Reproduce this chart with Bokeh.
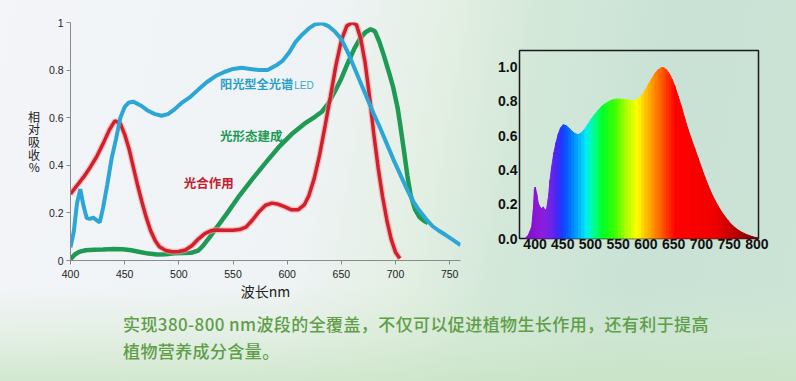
import numpy as np
from bokeh.plotting import figure
from bokeh.models import Range1d, FixedTicker, Label, Div
from bokeh.layouts import row, column
from bokeh.embed import file_html
from bokeh.resources import INLINE
from bokeh.core.properties import value

# ---------------- data: left chart ----------------
LED_NM = [400, 403, 406, 409, 412, 415, 418, 421, 424, 427, 430, 434, 438, 442, 446, 450,
          454, 458, 462, 466, 472, 478, 484, 490, 496, 502, 510, 518, 526, 534, 542, 550,
          558, 566, 574, 582, 590, 596, 602, 608, 614, 620, 626, 632, 638, 644, 650, 656,
          662, 668, 674, 680, 686, 692, 698, 704, 710, 716, 722, 728, 734, 740, 746, 752, 760]
LED_VAL = [0.055, 0.12, 0.24, 0.30, 0.23, 0.178, 0.175, 0.18, 0.17, 0.16, 0.22, 0.32, 0.43,
           0.51, 0.60, 0.645, 0.664, 0.667, 0.658, 0.648, 0.628, 0.615, 0.608, 0.615, 0.635,
           0.66, 0.685, 0.718, 0.75, 0.775, 0.792, 0.805, 0.81, 0.805, 0.80, 0.80, 0.82, 0.84,
           0.875, 0.92, 0.95, 0.975, 0.993, 0.997, 0.985, 0.962, 0.93, 0.875, 0.81, 0.745,
           0.68, 0.615, 0.555, 0.49, 0.425, 0.365, 0.305, 0.25, 0.21, 0.175, 0.145, 0.125,
           0.108, 0.09, 0.065]

PHOTO_NM = [400, 406, 412, 418, 424, 430, 436, 441, 446, 450, 454, 458, 462, 466, 470, 474,
            478, 482, 488, 494, 500, 506, 512, 518, 524, 530, 536, 542, 550, 556, 562, 568,
            574, 580, 586, 592, 598, 604, 610, 616, 620, 625, 630, 635, 640, 645, 650, 655,
            660, 664, 668, 672, 676, 680, 684, 688, 692, 696, 700, 704]
PHOTO_VAL = [0.28, 0.315, 0.35, 0.39, 0.435, 0.49, 0.55, 0.587, 0.575, 0.53, 0.47, 0.392,
             0.315, 0.245, 0.18, 0.125, 0.085, 0.058, 0.042, 0.037, 0.038, 0.044, 0.062,
             0.09, 0.113, 0.126, 0.128, 0.127, 0.127, 0.13, 0.14, 0.17, 0.205, 0.232, 0.241,
             0.236, 0.225, 0.213, 0.213, 0.235, 0.272, 0.345, 0.445, 0.565, 0.69, 0.82, 0.925,
             0.985, 1.0, 0.99, 0.93, 0.83, 0.69, 0.53, 0.39, 0.27, 0.17, 0.09, 0.035, 0.008]

MORPH_NM = [400, 404, 408, 414, 422, 430, 440, 448, 456, 464, 472, 480, 488, 496, 504, 512,
            518, 522, 528, 535, 544, 556, 568, 580, 592, 604, 616, 626, 632, 638, 644, 650,
            656, 662, 667, 672, 677, 681, 685, 689, 694, 698, 702, 705, 708, 711, 714, 718,
            722, 726, 730]
MORPH_VAL = [0.006, 0.025, 0.036, 0.043, 0.045, 0.046, 0.048, 0.047, 0.043, 0.036, 0.029,
             0.025, 0.026, 0.03, 0.031, 0.033, 0.042, 0.06, 0.095, 0.139, 0.195, 0.273, 0.343,
             0.41, 0.475, 0.53, 0.575, 0.605, 0.625, 0.66, 0.71, 0.765, 0.83, 0.89, 0.93,
             0.958, 0.972, 0.963, 0.92, 0.865, 0.79, 0.725, 0.64, 0.55, 0.455, 0.355, 0.275,
             0.215, 0.183, 0.168, 0.157]

X_TICKS_L = [400, 450, 500, 550, 600, 650, 700, 750]
Y_TICKS_L = [0, 0.2, 0.4, 0.6, 0.8, 1]
Y_LABELS_L = ["0", "0.2", "0.4", "0.6", "0.8", "1"]

LABEL_LED = "阳光型全光谱"
LABEL_LED_SUFFIX = "LED"
LABEL_MORPH = "光形态建成"
LABEL_PHOTO = "光合作用"
X_TITLE_L = "波长nm"
Y_TITLE_L = "相对吸收%"

# ---------------- data: right chart ----------------
SPD_NM = [382, 388, 394, 397, 399, 400.5, 403, 406, 409, 412, 415, 418, 421, 424, 427, 430,
          434, 438, 442, 446, 451, 456, 461, 466, 472, 478, 484, 490, 496, 502, 508, 514,
          520, 526, 532, 538, 544, 550, 556, 562, 568, 574, 580, 586, 592, 598, 604, 610,
          616, 622, 628, 632, 637, 642, 647, 652, 658, 664, 670, 676, 682, 688, 694, 700,
          706, 712, 718, 724, 730, 736, 742, 748, 754, 760, 766, 772, 778, 784, 790, 796, 802]
SPD_VAL = [0.0, 0.02, 0.068, 0.165, 0.29, 0.30, 0.26, 0.204, 0.184, 0.175, 0.184, 0.165,
           0.175, 0.233, 0.34, 0.417, 0.50, 0.56, 0.61, 0.645, 0.664, 0.658, 0.645, 0.628,
           0.612, 0.606, 0.618, 0.64, 0.67, 0.70, 0.725, 0.748, 0.77, 0.785, 0.797, 0.806,
           0.812, 0.814, 0.813, 0.811, 0.807, 0.805, 0.806, 0.815, 0.833, 0.86, 0.895, 0.93,
           0.962, 0.985, 0.997, 0.997, 0.985, 0.962, 0.93, 0.89, 0.83, 0.77, 0.70, 0.635,
           0.58, 0.525, 0.47, 0.415, 0.36, 0.31, 0.265, 0.225, 0.19, 0.158, 0.13, 0.105,
           0.083, 0.065, 0.05, 0.038, 0.028, 0.02, 0.013, 0.007, 0.003]

X_TICKS_R = [400, 450, 500, 550, 600, 650, 700, 750, 800]
Y_TICKS_R = [0, 0.2, 0.4, 0.6, 0.8, 1.0]
Y_LABELS_R = ["0.0", "0.2", "0.4", "0.6", "0.8", "1.0"]

CAPTION_1 = "实现380-800 nm波段的全覆盖，不仅可以促进植物生长作用，还有利于提高"
CAPTION_2 = "植物营养成分含量。"

# ---------------- styles ----------------
BLUE = "#2ba6d6"
RED = "#d21f2b"
GREEN = "#1f9a55"
TICK_FONT = "Liberation Sans"
CJK = "Noto Sans CJK SC"

SPECTRUM_STOPS = [
    (372, (118, 10, 180)), (395, (135, 20, 210)), (415, (140, 30, 220)), (428, (115, 35, 230)),
    (440, (70, 40, 245)), (450, (25, 60, 255)), (462, (0, 105, 255)), (478, (0, 170, 255)),
    (494, (0, 240, 240)), (508, (0, 255, 140)), (522, (0, 255, 40)), (545, (60, 255, 0)),
    (565, (175, 255, 0)), (585, (255, 255, 0)), (600, (255, 195, 0)), (620, (255, 125, 0)),
    (640, (255, 50, 0)), (655, (255, 0, 0)), (725, (240, 0, 0)), (760, (190, 0, 0)),
    (803, (110, 0, 10)),
]


def spectrum_color(nm):
    for (a, ca), (b, cb) in zip(SPECTRUM_STOPS[:-1], SPECTRUM_STOPS[1:]):
        if a <= nm <= b:
            t = (nm - a) / (b - a)
            c = [int(round(ca[i] + (cb[i] - ca[i]) * t)) for i in range(3)]
            return "#%02x%02x%02x" % tuple(c)
    return "#%02x%02x%02x" % SPECTRUM_STOPS[-1][1]


# ---------------- left chart ----------------
p1 = figure(width=478, height=305, output_backend="svg", toolbar_location=None, title=None,
            x_range=Range1d(400, 760), y_range=Range1d(0, 1),
            min_border_left=70, min_border_right=18, min_border_top=22, min_border_bottom=45)
p1.frame_align = False
p1.background_fill_color = None
p1.border_fill_color = None
p1.outline_line_color = None
p1.grid.visible = False

p1.xaxis.ticker = FixedTicker(ticks=X_TICKS_L)
p1.yaxis.ticker = FixedTicker(ticks=Y_TICKS_L)
p1.yaxis.major_label_overrides = {t: s for t, s in zip(Y_TICKS_L, Y_LABELS_L)}
for ax in (p1.xaxis, p1.yaxis):
    ax.axis_line_color = "#8a8a8a"
    ax.major_tick_line_color = "#8a8a8a"
    ax.minor_tick_line_color = None
    ax.major_tick_in = 0
    ax.major_tick_out = 4
    ax.major_label_text_font = TICK_FONT
    ax.major_label_text_font_size = "10.5px"
    ax.major_label_text_color = "#222222"
    ax.axis_label_text_font = CJK
    ax.axis_label_text_font_style = "normal"
    ax.axis_label_text_color = "#222222"
p1.xaxis.major_label_standoff = 5
p1.yaxis.major_label_standoff = 3

p1.xaxis.axis_label = X_TITLE_L
p1.xaxis.axis_label_text_font_size = "14px"
p1.xaxis.axis_label_standoff = 0

p1.yaxis.axis_label = "\n".join(Y_TITLE_L)
p1.yaxis.axis_label_orientation = "horizontal"
p1.yaxis.axis_label_text_font_size = "12px"
p1.yaxis.axis_label_text_line_height = 0.74
p1.yaxis.axis_label_standoff = 6

p1.line(MORPH_NM, MORPH_VAL, line_color=GREEN, line_width=4.5)
p1.line(PHOTO_NM, PHOTO_VAL, line_color="#f2a0a4", line_width=6, line_alpha=0.6)
p1.line(PHOTO_NM, PHOTO_VAL, line_color=RED, line_width=3.5)
p1.line(LED_NM, LED_VAL, line_color=BLUE, line_width=4)

p1.add_layout(Label(x=538, y=0.741, text=LABEL_LED, text_font=CJK, text_font_size="12.2px",
                    text_font_style="bold", text_color="#2a9fc6", text_baseline="middle"))
p1.add_layout(Label(x=606.5, y=0.737, text=LABEL_LED_SUFFIX, text_font=TICK_FONT,
                    text_font_size="10px", text_color="#3aa8cc", text_baseline="middle"))
p1.add_layout(Label(x=538, y=0.526, text=LABEL_MORPH, text_font=CJK, text_font_size="12.5px",
                    text_font_style="bold", text_color="#1c9a56", text_baseline="middle"))
p1.add_layout(Label(x=504.5, y=0.329, text=LABEL_PHOTO, text_font=CJK, text_font_size="12.5px",
                    text_font_style="bold", text_color="#c42030", text_baseline="middle"))

# ---------------- right chart ----------------
p2 = figure(width=318, height=305, output_backend="svg", toolbar_location=None, title=None,
            x_range=Range1d(372, 803), y_range=Range1d(0, 1.097),
            min_border_left=41, min_border_right=38, min_border_top=50, min_border_bottom=67)
p2.frame_align = False
p2.background_fill_color = None
p2.border_fill_color = None
p2.outline_line_color = "#1a1a1a"
p2.outline_line_width = 1.5
p2.grid.visible = False

xs, ys, cols = [], [], []
for i in range(len(SPD_NM) - 1):
    x0, x1 = SPD_NM[i], SPD_NM[i + 1]
    y0, y1 = SPD_VAL[i], SPD_VAL[i + 1]
    xs.append([x0, x0, x1, x1])
    ys.append([0, y0, y1, 0])
    cols.append(spectrum_color((x0 + x1) / 2))
p2.patches(xs, ys, fill_color=cols, line_color=cols, line_width=1.0)

p2.xaxis.ticker = FixedTicker(ticks=X_TICKS_R)
p2.yaxis.ticker = FixedTicker(ticks=Y_TICKS_R)
p2.yaxis.major_label_overrides = {t: s for t, s in zip(Y_TICKS_R, Y_LABELS_R)}
for ax in (p2.xaxis, p2.yaxis):
    ax.axis_line_color = None
    ax.major_tick_line_color = None
    ax.minor_tick_line_color = None
    ax.major_tick_in = 0
    ax.major_tick_out = 0
    ax.major_label_text_font = TICK_FONT
    ax.major_label_text_font_size = "14px"
    ax.major_label_text_font_style = "bold"
    ax.major_label_text_color = "#111111"
p2.xaxis.major_label_standoff = 0
p2.yaxis.major_label_standoff = 2

# ---------------- caption ----------------
caption = Div(
    text=('<div style="margin:1px 0 0 118px; font-family:\'Noto Sans CJK SC\',sans-serif; '
          'font-size:17px; font-weight:500; color:#5f9e48; line-height:26.7px; '
          'letter-spacing:0.4px; white-space:nowrap;">'
          + CAPTION_1 + '<br>' + CAPTION_2 + '</div>'),
    width=796, height=76)

bg = ("linear-gradient(to top, rgba(200,228,196,0.85) 0px, rgba(210,233,205,0.45) 55px, "
      "rgba(220,238,215,0) 105px), "
      "linear-gradient(100deg, #f3f5f8 0%, #eff3f5 38%, #e3efe3 52%, #d3e8d9 62%, "
      "#c9e2d5 78%, #cbe4d6 100%)")

root = column(row(p1, p2), caption, styles={"background": bg})

open("out.html", "w").write(file_html(root, INLINE))
